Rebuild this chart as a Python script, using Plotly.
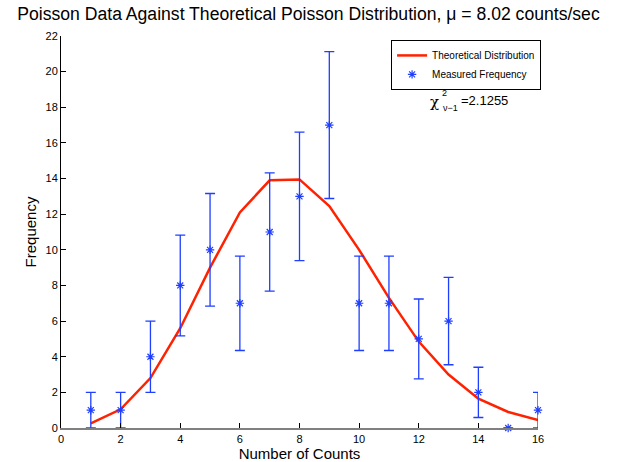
import plotly.graph_objects as go

counts = [1, 2, 3, 4, 5, 6, 7, 8, 9, 10, 11, 12, 13, 14, 15, 16]
theoretical = [0.26, 1.05, 2.8, 5.6, 9.0, 12.1, 13.9, 13.95, 12.45, 10.0, 7.3, 4.85, 3.0, 1.65, 0.9, 0.45]
measured = [1, 1, 4, 8, 10, 7, 11, 13, 17, 7, 7, 5, 6, 2, 0, 1]
errors = [1.0, 1.0, 2.0, 2.83, 3.16, 2.65, 3.32, 3.61, 4.12, 2.65, 2.65, 2.24, 2.45, 1.41, 0.0, 1.0]
x_ticks = [0, 2, 4, 6, 8, 10, 12, 14, 16]
y_ticks = [0, 2, 4, 6, 8, 10, 12, 14, 16, 18, 20, 22]

FONT = "Liberation Sans, Arial, Helvetica, sans-serif"
BLUE = "#1f3fff"
RED = "#ff2200"

fig = go.Figure()
fig.add_trace(go.Scatter(
    x=counts, y=theoretical, mode="lines", name="Theoretical Distribution",
    line=dict(color=RED, width=2.5), cliponaxis=False,
))
fig.add_trace(go.Scatter(
    x=counts, y=measured, mode="markers", name="Measured Frequency",
    marker=dict(symbol="asterisk-open", size=7, color=BLUE, line=dict(color=BLUE, width=1.2)),
    error_y=dict(type="data", array=errors, visible=True, color=BLUE, thickness=1.3, width=5),
    cliponaxis=False,
))

fig.update_layout(
    width=617, height=462,
    margin=dict(l=61, r=79, t=36, b=34),
    paper_bgcolor="white", plot_bgcolor="white",
    font=dict(family=FONT, color="black", size=11),
    title=dict(text="Poisson Data Against Theoretical Poisson Distribution, \u03bc = 8.02 counts/sec",
               x=0.5, xref="container", xanchor="center", y=0.97, yref="container", yanchor="middle",
               font=dict(size=17.6, family=FONT, color="black"), automargin=False),
    showlegend=True,
    legend=dict(x=0.692, y=0.99, xanchor="left", yanchor="top",
                bgcolor="white", bordercolor="black", borderwidth=1,
                font=dict(size=10, family=FONT), tracegroupgap=0, itemwidth=30),
    xaxis=dict(range=[0, 16], tickvals=x_ticks, ticks="inside", ticklen=5, tickcolor="black",
               showgrid=False, zeroline=False, showline=True, linecolor="#808080", linewidth=2,
               title=dict(text="Number of Counts", font=dict(size=15, family=FONT), standoff=4),
               tickfont=dict(size=11), automargin=False),
    yaxis=dict(range=[0, 22], tickvals=y_ticks, ticks="inside", ticklen=5, tickcolor="black",
               showgrid=False, zeroline=False, showline=True, linecolor="black", linewidth=1,
               title=dict(text="Frequency", font=dict(size=15, family=FONT), standoff=5),
               tickfont=dict(size=11), automargin=False),
)

# chi-square annotation
fig.add_annotation(x=12.52, y=18.3, text="\u03c7", showarrow=False, font=dict(size=15, family="DejaVu Serif"))
fig.add_annotation(x=12.85, y=18.8, text="2", showarrow=False, font=dict(size=9, family=FONT))
fig.add_annotation(x=13.05, y=17.95, text="\u03bd\u22121", showarrow=False, font=dict(size=9, family=FONT))
fig.add_annotation(x=14.2, y=18.4, text="=2.1255", showarrow=False, font=dict(size=13, family=FONT))

fig.write_html("out.html", config={"displayModeBar": False},
               post_script="document.body.style.margin='0';")
